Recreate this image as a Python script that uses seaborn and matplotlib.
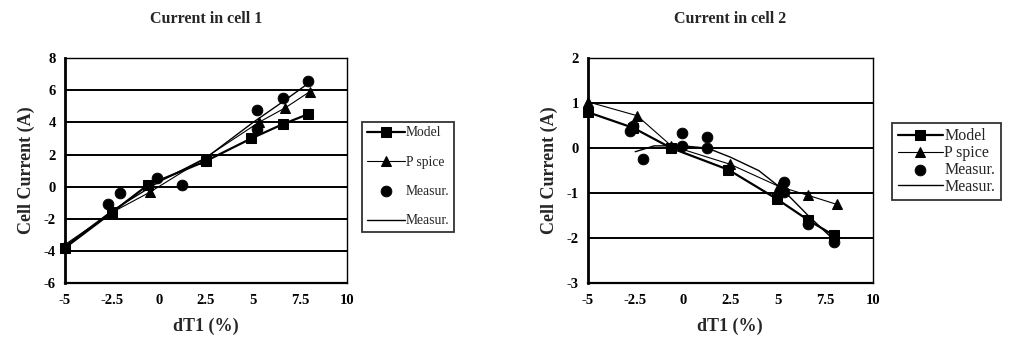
import numpy as np
import pandas as pd
import seaborn as sns
import matplotlib
matplotlib.use("Agg")
import matplotlib.pyplot as plt

# Current in cell 1
c1_model_x = [-5, -2.5, -0.6, 2.5, 4.9, 6.6, 7.9]
c1_model_y = [-3.8, -1.6, 0.1, 1.6, 3.0, 3.9, 4.5]
c1_psp_x = [-5, -2.5, -0.5, 2.4, 5.3, 6.7, 8.0]
c1_psp_y = [-3.6, -1.6, -0.35, 1.75, 4.0, 4.9, 5.9]
c1_meas_x = [-2.7, -2.1, -0.1, 1.2, 5.2, 5.2, 6.6, 7.9]
c1_meas_y = [-1.05, -0.4, 0.55, 0.1, 4.8, 3.6, 5.5, 6.55]
c1_mline_x = [-5, -2.5, 0, 2.5, 5, 6.6, 7.9]
c1_mline_y = [-3.7, -1.5, 0.3, 1.8, 4.0, 5.3, 6.4]

# Current in cell 2
c2_model_x = [-5, -2.6, -0.6, 2.4, 4.95, 6.6, 7.95]
c2_model_y = [0.8, 0.45, 0.0, -0.48, -1.13, -1.6, -1.94]
c2_psp_x = [-5, -2.4, -0.6, 2.5, 5.05, 6.6, 8.1]
c2_psp_y = [1.03, 0.72, 0.05, -0.36, -0.85, -1.05, -1.25]
c2_meas_x = [-2.8, -2.6, -2.1, -0.05, -0.05, 1.3, 1.3, 5.3, 5.3, 6.6, 7.95]
c2_meas_y = [0.38, 0.5, -0.24, 0.33, 0.05, 0.25, 0.0, -0.76, -0.98, -1.68, -2.08]
c2_mline_x = [-2.5, -1.5, 0, 1.3, 2.5, 4.0, 5.2, 6.6, 7.9]
c2_mline_y = [-0.08, 0.05, 0.05, 0.0, -0.2, -0.5, -0.9, -1.5, -2.02]

x_ticks = [-5, -2.5, 0, 2.5, 5, 7.5, 10]
x_ticklabels = ["-5", "-2.5", "0", "2.5", "5", "7.5", "10"]

sns.set_style("white")
plt.rcParams['font.family'] = ['Liberation Serif', 'DejaVu Serif']
plt.rcParams['font.weight'] = 'bold'
plt.rcParams['axes.unicode_minus'] = False

fig = plt.figure(figsize=(10.15, 3.5), dpi=100)
ax1 = fig.add_axes([0.064, 0.191, 0.278, 0.643])
ax2 = fig.add_axes([0.579, 0.191, 0.281, 0.643])


def draw(ax, mx, my, px, py, cx, cy, lx, ly, ylim, yticks, title, legend_kw, leg_fs):
    for y in yticks:
        ax.axhline(y, color="black", lw=1.4, zorder=1)
    sns.lineplot(x=mx, y=my, ax=ax, sort=False, color="black", lw=1.6,
                 marker="s", markersize=7.5, markeredgecolor="black",
                 label="Model", zorder=3, clip_on=False)
    sns.lineplot(x=px, y=py, ax=ax, sort=False, color="black", lw=0.8,
                 marker="^", markersize=7.5, markeredgecolor="black",
                 label="P spice", zorder=3, clip_on=False)
    sns.scatterplot(x=cx, y=cy, ax=ax, color="black", s=60, edgecolor="black",
                    label="Measur.", zorder=4, clip_on=False)
    sns.lineplot(x=lx, y=ly, ax=ax, sort=False, color="black", lw=1.0,
                 label="Measur.", zorder=2)
    ax.set_xlim(-5, 10)
    ax.set_ylim(*ylim)
    ax.set_xticks(x_ticks)
    ax.set_xticklabels(x_ticklabels)
    ax.set_yticks(yticks)
    ax.set_yticklabels([str(v) for v in yticks])
    ax.tick_params(axis="both", labelsize=10.5, length=4, width=1.2,
                   direction="out", colors="black")
    ax.tick_params(axis="y", length=3)
    for s in ax.spines.values():
        s.set_color("black")
        s.set_linewidth(1.0)
    ax.spines["left"].set_linewidth(2.0)
    ax.spines["bottom"].set_linewidth(1.6)
    ax.set_xlabel("dT1 (%)", fontsize=13, fontweight="bold", labelpad=8)
    ax.set_ylabel("Cell Current (A)", fontsize=13, fontweight="bold", labelpad=6)
    ax.set_title(title, fontsize=11.5, fontweight="bold", pad=25)
    for lab in ax.get_xticklabels() + ax.get_yticklabels():
        lab.set_fontweight("bold")
    leg = ax.legend(loc="upper left", frameon=True, fancybox=False,
                    edgecolor="black", fontsize=leg_fs, handlelength=2.8,
                    handletextpad=0.1, borderpad=0.35, **legend_kw)
    leg.get_frame().set_linewidth(1.3)
    for t in leg.get_texts():
        t.set_fontweight("normal")


draw(ax1, c1_model_x, c1_model_y, c1_psp_x, c1_psp_y, c1_meas_x, c1_meas_y,
     c1_mline_x, c1_mline_y, (-6, 8), [-6, -4, -2, 0, 2, 4, 6, 8],
     "Current in cell 1",
     dict(bbox_to_anchor=(1.028, 0.748), labelspacing=1.2), 9.8)
draw(ax2, c2_model_x, c2_model_y, c2_psp_x, c2_psp_y, c2_meas_x, c2_meas_y,
     c2_mline_x, c2_mline_y, (-3, 2), [-3, -2, -1, 0, 1, 2],
     "Current in cell 2",
     dict(bbox_to_anchor=(1.04, 0.748), labelspacing=0.05), 11.5)

fig.savefig("out.png", dpi=100)
